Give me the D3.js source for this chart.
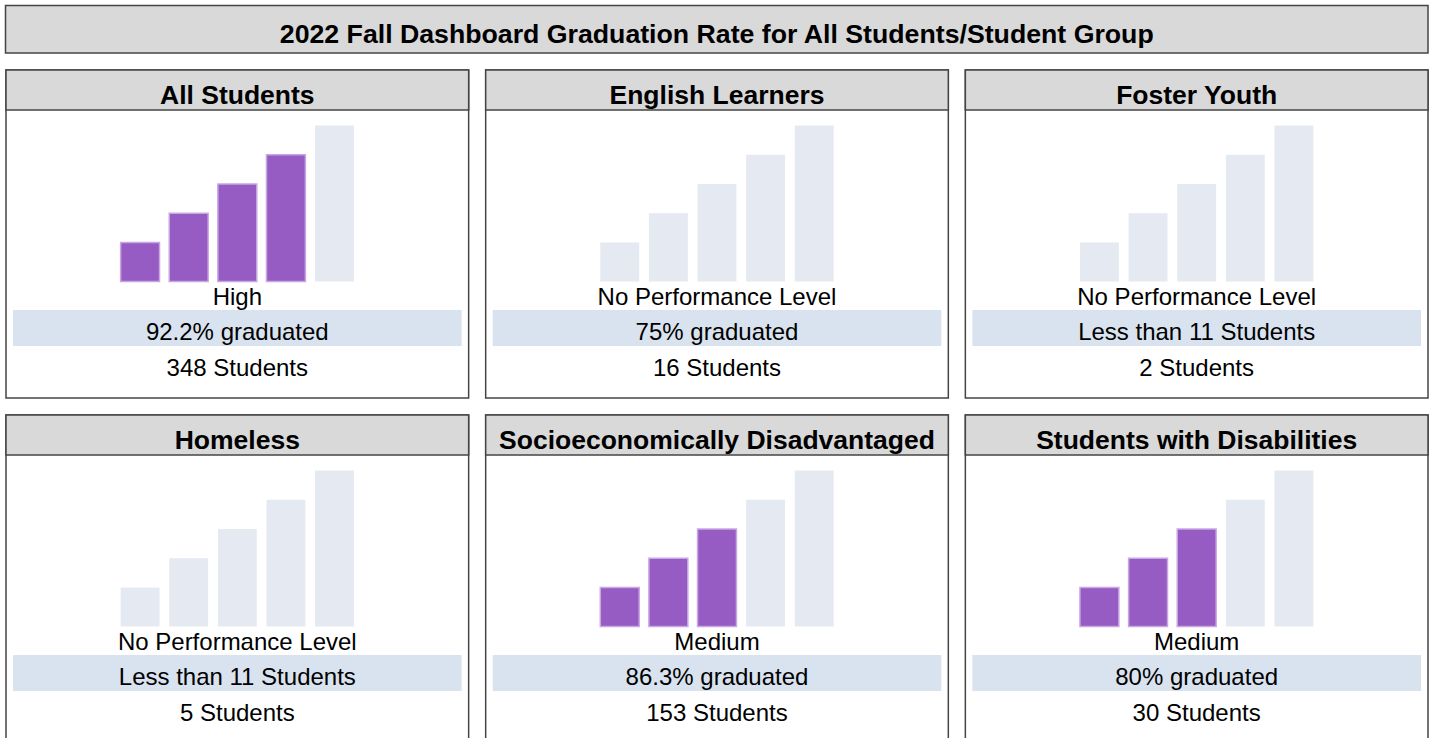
<!DOCTYPE html>
<html>
<head>
<meta charset="utf-8">
<script src="https://cdn.jsdelivr.net/npm/d3@7"></script>
<style>
  html, body { margin: 0; padding: 0; background: #ffffff; }
  svg { display: block; }
</style>
</head>
<body>
<svg id="chart" width="1433" height="738"></svg>
<script>
const chartTitle = "2022 Fall Dashboard Graduation Rate for All Students/Student Group";
const groups = ["All Students", "English Learners", "Foster Youth", "Homeless", "Socioeconomically Disadvantaged", "Students with Disabilities"];
const levels = ["High", "No Performance Level", "No Performance Level", "No Performance Level", "Medium", "Medium"];
const rateTexts = ["92.2% graduated", "75% graduated", "Less than 11 Students", "Less than 11 Students", "86.3% graduated", "80% graduated"];
const studentCounts = [348, 16, 2, 5, 153, 30];
const filledBars = [4, 0, 0, 0, 3, 3];
const barSteps = [1, 2, 3, 4, 5];
const barValues = [4, 7, 10, 13, 16];

const svg = d3.select("#chart");
const purple = "#975cc3";
const purpleEdge = "#c7a6e2";
const grey = "#e5e9f1";
const headerFill = "#d9d9d9";
const bandFill = "#d9e3ef";
const border = "#444444";
const fontFam = "Liberation Sans, Arial, sans-serif";

// Title box
svg.append("rect")
  .attr("x", 5.5).attr("y", 5.5).attr("width", 1422.5).attr("height", 47.5)
  .attr("fill", headerFill).attr("stroke", border).attr("stroke-width", 1.5);
svg.append("text")
  .attr("x", (5.5 + 1428) / 2).attr("y", 34)
  .attr("text-anchor", "middle").attr("dominant-baseline", "central")
  .attr("font-family", fontFam)
  .attr("font-weight", "bold").attr("font-size", 26.7).attr("fill", "#000")
  .text(chartTitle);

// Panel layout
const cols = d3.scaleBand().domain([0, 1, 2]).range([6, 1428]).paddingInner(0.0355);
const rows = [70, 415];
const panelW = cols.bandwidth();
const panelH = 328;
const headerH = 40;

const x = d3.scaleBand().domain(barSteps).range([0, 233.4]).paddingInner(0.2);
const y = d3.scaleLinear().domain([0, 16]).range([211.5, 55.5]);

groups.forEach((g, i) => {
  const px = cols(i % 3);
  const py = rows[Math.floor(i / 3)];
  const p = svg.append("g").attr("transform", `translate(${px},${py})`);

  p.append("rect").attr("x", 0).attr("y", 0).attr("width", panelW).attr("height", panelH)
    .attr("fill", "#fff").attr("stroke", border).attr("stroke-width", 1.5);
  p.append("rect").attr("x", 0).attr("y", 0).attr("width", panelW).attr("height", headerH)
    .attr("fill", headerFill).attr("stroke", border).attr("stroke-width", 1.5);
  p.append("text")
    .attr("x", panelW / 2).attr("y", 25)
    .attr("text-anchor", "middle").attr("dominant-baseline", "central")
    .attr("font-family", fontFam)
    .attr("font-weight", "bold").attr("font-size", 26.5).attr("fill", "#000")
    .text(g);

  const bx = panelW / 2 - 233.4 / 2;
  const bg = p.append("g").attr("transform", `translate(${bx},0)`);
  bg.selectAll("rect").data(barSteps).join("rect")
    .attr("x", d => x(d))
    .attr("y", (d, k) => y(barValues[k]))
    .attr("width", x.bandwidth())
    .attr("height", (d, k) => y(0) - y(barValues[k]))
    .attr("fill", d => d <= filledBars[i] ? purple : grey)
    .attr("stroke", d => d <= filledBars[i] ? purpleEdge : "none")
    .attr("stroke-width", 1.5);

  p.append("text")
    .attr("x", panelW / 2).attr("y", 226.5)
    .attr("text-anchor", "middle").attr("dominant-baseline", "central")
    .attr("font-family", fontFam)
    .attr("font-size", 24).attr("fill", "#000")
    .text(levels[i]);

  p.append("rect").attr("x", 7).attr("y", 240).attr("width", panelW - 14).attr("height", 36)
    .attr("fill", bandFill);
  p.append("text")
    .attr("x", panelW / 2).attr("y", 261.5)
    .attr("text-anchor", "middle").attr("dominant-baseline", "central")
    .attr("font-family", fontFam)
    .attr("font-size", 24).attr("fill", "#000")
    .text(rateTexts[i]);

  p.append("text")
    .attr("x", panelW / 2).attr("y", 297.5)
    .attr("text-anchor", "middle").attr("dominant-baseline", "central")
    .attr("font-family", fontFam)
    .attr("font-size", 24).attr("fill", "#000")
    .text(studentCounts[i] + " Students");
});
</script>
</body>
</html>
